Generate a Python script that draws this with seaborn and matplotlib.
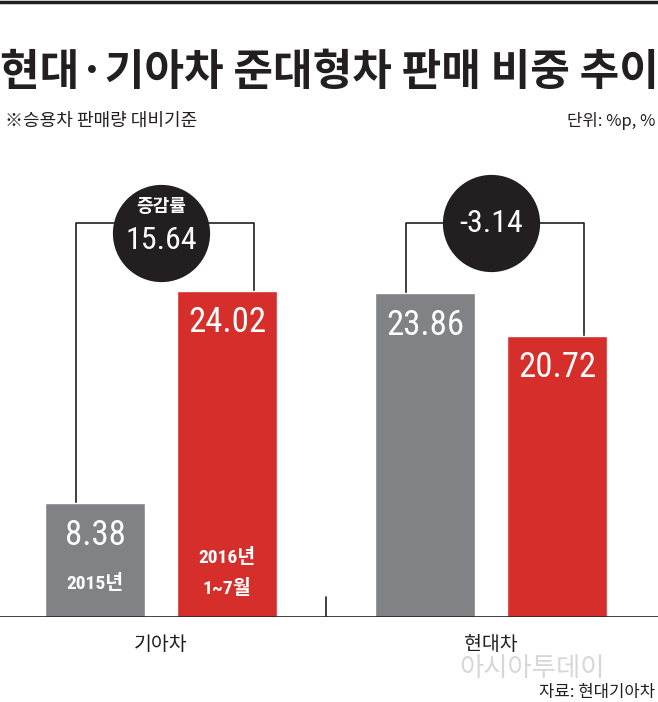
import numpy as np
import pandas as pd
import matplotlib
matplotlib.use("Agg")
import matplotlib.pyplot as plt
import seaborn as sns

# data
companies = ["기아차", "기아차", "현대차", "현대차"]
periods = ["2015년", "2016년 1~7월", "2015년", "2016년 1~7월"]
shares = [8.38, 24.02, 23.86, 20.72]
change_companies = ["기아차", "현대차"]
changes = [15.64, -3.14]

gray = "#818285"
red = "#d62e2a"
ink = "#231f20"
num_font = ["Roboto Condensed", "PT Sans Narrow", "Noto Sans CJK KR", "DejaVu Sans"]
kr_font = ["Noto Sans CJK KR", "DejaVu Sans"]

sns.set_theme(style="white")
plt.rcParams["font.family"] = kr_font

df = pd.DataFrame({"company": companies, "period": periods, "share": shares})

fig = plt.figure(figsize=(6.58, 7.02), dpi=100)
W, H = 658, 702
# axes: baseline at y=617px, top at y=150px
ax = fig.add_axes([0, (H - 617) / H, 1, (617 - 150) / H])

sns.barplot(data=df, x="company", y="share", hue="period",
            palette=[gray, red], width=0.8, gap=0.24, saturation=1,
            legend=False, ax=ax, zorder=2)
ax.set_xlim(-0.488, 1.506)
ax.set_ylim(0, 34.4)
for s in ax.spines.values():
    s.set_visible(False)
ax.set_yticks([])
ax.set_xlabel("")
ax.set_ylabel("")
ax.tick_params(axis="x", length=0, pad=12)
for lab in ax.get_xticklabels():
    lab.set_fontsize(14)
    lab.set_family(kr_font)
    lab.set_color(ink)
ax.axhline(0, color=ink, lw=1.2, zorder=3)
ax.plot([0.5, 0.5], [0, 1.5], color=ink, lw=1.2, zorder=3)

bars = sorted(ax.patches, key=lambda p: p.get_x())
bars = [b for b in bars if b.get_height() > 0]

# value labels inside the bars
for b in bars:
    cx = b.get_x() + b.get_width() / 2
    ax.annotate(f"{b.get_height():.2f}", (cx, b.get_height()),
                xytext=(0, -23), textcoords="offset points",
                ha="center", va="center", color="white",
                fontsize=25, family=num_font, zorder=4)

# period labels in the first group
g0 = bars[0]
r0 = bars[1]
ax.text(g0.get_x() + g0.get_width() / 2, 2.45, "2015년", ha="center",
        va="center", color="white", fontsize=14, family=num_font,
        fontweight="bold", zorder=4)
ax.text(r0.get_x() + r0.get_width() / 2, 4.35, "2016년", ha="center",
        va="center", color="white", fontsize=14, family=num_font,
        fontweight="bold", zorder=4)
ax.text(r0.get_x() + r0.get_width() / 2, 2.1, "1~7월", ha="center",
        va="center", color="white", fontsize=14, family=num_font,
        fontweight="bold", zorder=4)

# brackets and change circles
bracket_y = 29.0
circle_y = [28.3, 29.0]
for i, (comp, ch) in enumerate(zip(change_companies, changes)):
    gb, rb = bars[2 * i], bars[2 * i + 1]
    xl = gb.get_x() + 0.31 * gb.get_width()
    xr = rb.get_x() + 0.77 * rb.get_width()
    ax.plot([xl, xl, xr, xr], [gb.get_height(), bracket_y, bracket_y, rb.get_height()],
            color=ink, lw=1.2, zorder=1)
    ax.scatter([i], [circle_y[i]], s=4900, color=ink, zorder=5, linewidths=0)
    if i == 0:
        ax.text(i, circle_y[i] + 1.95, "증감률", ha="center", va="center",
                color="white", fontsize=13, fontweight="bold", family=kr_font, zorder=6)
        ax.text(i, circle_y[i] - 0.6, f"{ch:.2f}", ha="center", va="center",
                color="white", fontsize=23, family=num_font, zorder=6)
    else:
        ax.text(i, circle_y[i], f"{ch:.2f}", ha="center", va="center",
                color="white", fontsize=23, family=num_font, zorder=6)

# header
fig.add_artist(plt.Line2D([0, 1], [1 - 1.5 / H, 1 - 1.5 / H], color=ink, lw=2.5))
fig.text(0.5, 1 - 72 / H, "현대·기아차 준대형차 판매 비중 추이", ha="center", va="center",
         fontsize=31, fontweight="heavy", color=ink, family=kr_font)
fig.text(5 / W, 1 - 121 / H, "※승용차 판매량 대비기준", ha="left", va="center",
         fontsize=13, color=ink, family=kr_font)
fig.text(655 / W, 1 - 121 / H, "단위: %p, %", ha="right", va="center",
         fontsize=12, color=ink, family=kr_font)

# watermark and source
fig.text(532 / W, 1 - 668 / H, "아시아투데이", ha="center", va="center",
         fontsize=19, color="#bdbdbd", alpha=0.6, family=kr_font)
fig.text(655 / W, 1 - 692 / H, "자료: 현대기아차", ha="right", va="center",
         fontsize=12, color=ink, family=kr_font)

fig.savefig("out.png", dpi=100, facecolor="white")
